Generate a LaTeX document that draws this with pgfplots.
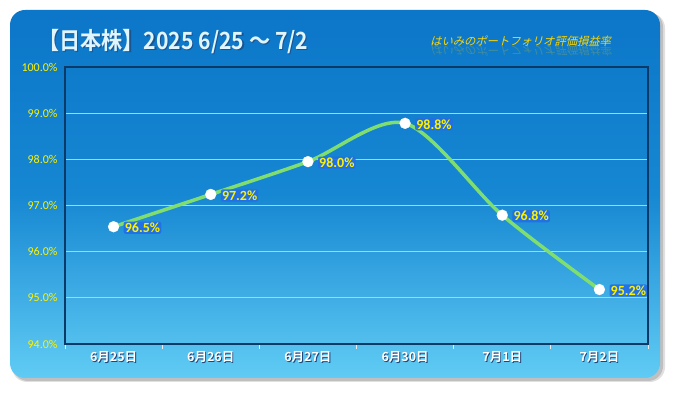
\documentclass[border=0pt]{standalone}
\usepackage{pgfplots}
\pgfplotsset{compat=1.18}
\usepackage{pgfplotstable}
\usepackage{fontspec}
\setmainfont{Carlito}
\newfontfamily\cjk{Noto Sans CJK JP}
\newfontfamily\cjkb{Noto Sans CJK JP Bold}
\newfontfamily\cjkit[FakeSlant=0.25]{Noto Sans CJK JP}
\definecolor{bgtop}{RGB}{12,118,200}
\definecolor{bgmid}{RGB}{22,135,210}
\definecolor{bgbot}{RGB}{96,204,244}
\definecolor{linegreen}{RGB}{128,222,112}
\definecolor{framec}{RGB}{12,58,104}
\definecolor{lblbg}{RGB}{34,110,230}
\definecolor{gridc}{RGB}{165,212,245}
\definecolor{gold}{RGB}{255,214,0}
\definecolor{shadowc}{RGB}{30,70,120}
\newcommand\sh[1]{\leavevmode\rlap{\raisebox{-0.9pt}{\kern0.9pt\textcolor{shadowc}{#1}}}\textcolor{white}{#1}}
\pgfplotstableread{
x y lbl
0 96.54 96.5\%
1 97.24 97.2\%
2 97.95 98.0\%
3 98.78 98.8\%
4 96.79 96.8\%
5 95.18 95.2\%
}\datatbl
\begin{document}
\begin{tikzpicture}[x=1pt,y=1pt]
\path[use as bounding box] (0,0) rectangle (675,393);
% shadow
\fill[black,opacity=0.12,rounded corners=15pt] (12,11) rectangle (665,380);
\fill[black,opacity=0.15,rounded corners=15pt] (13,12) rectangle (663,381);
% card
\shade[rounded corners=15pt, top color=bgtop, bottom color=bgbot, middle color=bgmid] (10,15) rectangle (660,383);
% title
\node[anchor=west, inner sep=0, text=shadowc, opacity=0.7] at (39.2,350.3) {\resizebox{270pt}{!}{\scalebox{1}[1.12]{\cjkb 【日本株】2025 6/25 〜 7/2}}};
\node[anchor=west, inner sep=0, text=white!88!cyan] at (38,351.5) {\resizebox{270pt}{!}{\scalebox{1}[1.12]{\cjkb 【日本株】2025 6/25 〜 7/2}}};
% subtitle with reflection
\node[anchor=west, inner sep=0, text=gold, opacity=0.22, yscale=-1] at (430,342) {\fontsize{11.3}{12}\cjkit はいみのポートフォリオ評価損益率};
\node[anchor=west, inner sep=0, text=gold] at (430,352) {\fontsize{11.3}{12}\cjkit はいみのポートフォリオ評価損益率};
\begin{axis}[
  at={(65pt,49pt)}, anchor=south west,
  scale only axis, width=583pt, height=277pt,
  xmin=-0.5, xmax=5.5, ymin=94, ymax=100,
  ytick={94,95,...,100},
  yticklabel={\pgfmathprintnumber[fixed,fixed zerofill,precision=1]{\tick}\%},
  /pgf/number format/assume math mode=true,
  yticklabel style={text=yellow, font=\fontsize{12}{13}\selectfont, xshift=-4pt},
  xtick={0,...,5},
  xticklabels={\sh{6月25日},\sh{6月26日},\sh{6月27日},\sh{6月30日},\sh{7月1日},\sh{7月2日}},
  xticklabel style={font=\cjkb\fontsize{12.5}{14}\selectfont, yshift=-4pt},
  major tick length=0pt,
  minor xtick={-0.5,0.5,...,5.5},
  minor tick length=5pt,
  tick align=outside,
  xtick pos=bottom, ytick pos=left,
  minor tick style={white!85!gray, line width=0.8pt},
  ymajorgrids, grid style={gridc, line width=0.7pt},
  axis line style={framec, line width=1.3pt},
  clip=false,
]
\addplot[linegreen, line width=3.5pt, smooth, no marks] table[x=x, y=y] {\datatbl};
\addplot[only marks, mark=*, mark size=5.5pt, mark options={fill=white, draw=white, line width=0.2pt},
  nodes near coords, point meta=explicit symbolic,
  nodes near coords style={anchor=west, xshift=10pt, yshift=-1pt, text=yellow,
     font=\bfseries\fontsize{14}{15}\selectfont, fill=lblbg, fill opacity=0.9, text opacity=1,
     inner sep=1.2pt, rounded corners=2pt}]
  table[x=x, y=y, meta=lbl] {\datatbl};
\end{axis}
\end{tikzpicture}
\end{document}
